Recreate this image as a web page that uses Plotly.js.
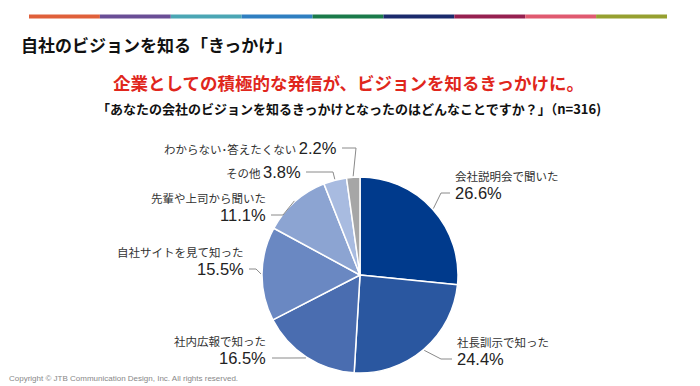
<!DOCTYPE html>
<html><head><meta charset="utf-8">
<script src="https://cdn.plot.ly/plotly-3.0.1.min.js"></script>
<style>html,body{margin:0;padding:0;background:#fff;}#chart{width:700px;height:386px;}</style>
</head><body><div id="chart"></div>
<script>
// ---- data ----
const categories = ["会社説明会で聞いた","社長訓示で知った","社内広報で知った","自社サイトを見て知った","先輩や上司から聞いた","その他","わからない･答えたくない"];
const values = [26.6, 24.4, 16.5, 15.5, 11.1, 3.8, 2.2];
const valueLabels = ["26.6%","24.4%","16.5%","15.5%","11.1%","3.8%","2.2%"];
const sliceColors = ["#003A8C","#2A57A0","#4A6DB0","#6A88C2","#8CA4D2","#A8BBE0","#A6A6A6"];
const stripeColors = ["#E0603A","#6A4E96","#4BA6B4","#2F7FC1","#1A7A4A","#1A2A6C","#962050","#E05A70","#96A030"];
const titleText = "自社のビジョンを知る「きっかけ」";
const headline = "企業としての積極的な発信が、ビジョンを知るきっかけに。";
const question = "「あなたの会社のビジョンを知るきっかけとなったのはどんなことですか？」（n=316)";
const copyright = "Copyright © JTB Communication Design, Inc. All rights reserved.";

// ---- layout constants (pixels) ----
const W = 700, H = 386;
const cx = 360, cy = 275, R = 98;
const JP = "'Noto Sans CJK JP', 'Noto Sans', sans-serif";
const NUM = "'Liberation Sans', Arial, sans-serif";

// label placement: side, text anchor x, value y, elbow point, end point
const labelPos = [
  {side:"left",  x:453, vy:193, elbow:[441,193], end:[450,193]},
  {side:"left",  x:455, vy:359, elbow:[441,359], end:[452,359]},
  {side:"right", x:268, vy:358, elbow:[290,358], end:[272,358]},
  {side:"right", x:246, vy:269, elbow:[256,269], end:[249,269]},
  {side:"right", x:268, vy:215, elbow:[283,215], end:[271,215]},
  {side:"inline",x:303, vy:172, elbow:[333,172], end:[306,172]},
  {side:"inline",x:339, vy:148, elbow:[356,148], end:[342,148]}
];
const lineGap = 17;

const total = values.reduce((a,b)=>a+b,0);
const shapes = [];
const annotations = [];

// stripe
const sx0 = 29, sx1 = 667, segW = (sx1 - sx0) / stripeColors.length;
stripeColors.forEach((c,i)=>{
  shapes.push({type:"rect", xref:"x", yref:"y", x0:sx0+i*segW, x1:sx0+(i+1)*segW, y0:14.5, y1:18.5, fillcolor:c, line:{width:0}});
});

let cum = 0;
values.forEach((v,i)=>{
  const mid = (cum + v/2) / total * 2*Math.PI;
  cum += v;
  const p = labelPos[i];
  const rr = R + 1;
  const px = cx + rr*Math.sin(mid), py = cy - rr*Math.cos(mid);
  shapes.push({type:"path", xref:"x", yref:"y",
    path:`M${px},${py} L${p.elbow[0]},${p.elbow[1]} L${p.end[0]},${p.end[1]}`,
    line:{color:"#8a8a8a", width:1}});
  if (p.side === "inline") {
    const valSpan = `<span style="font-family:${NUM};font-size:16.5px;fill:#222;">${valueLabels[i]}</span>`;
    annotations.push({xref:"x", yref:"y", x:p.x, y:p.vy, xanchor:"right", yanchor:"middle", showarrow:false,
      text:`${categories[i]} ${valSpan}`,
      font:{family:JP, size:11.5, color:"#333"}});
  } else {
    const xa = p.side === "left" ? "left" : "right";
    annotations.push({xref:"x", yref:"y", x:p.x, y:p.vy - lineGap, xanchor:xa, yanchor:"middle", showarrow:false,
      text:categories[i], font:{family:JP, size:11.5, color:"#333"}});
    annotations.push({xref:"x", yref:"y", x:p.x, y:p.vy, xanchor:xa, yanchor:"middle", showarrow:false,
      text:valueLabels[i], font:{family:NUM, size:16.5, color:"#222"}});
  }
});

// texts
annotations.push({xref:"x", yref:"y", x:19, y:44, xanchor:"left", yanchor:"middle", showarrow:false,
  text:"<b>"+titleText+"</b>", font:{family:JP, size:17, color:"#111"}});
annotations.push({xref:"x", yref:"y", x:348, y:82, xanchor:"center", yanchor:"middle", showarrow:false,
  text:"<b>"+headline+"</b>", font:{family:JP, size:17.5, color:"#E0261C"}});
annotations.push({xref:"x", yref:"y", x:349, y:108, xanchor:"center", yanchor:"middle", showarrow:false,
  text:"<b>"+question+"</b>", font:{family:JP, size:13, color:"#111"}});
annotations.push({xref:"x", yref:"y", x:7, y:378, xanchor:"left", yanchor:"middle", showarrow:false,
  text:copyright, font:{family:NUM, size:8, color:"#888"}});

const trace = {
  type:"pie", values:values, labels:categories, sort:false, direction:"clockwise", rotation:0,
  marker:{colors:sliceColors, line:{color:"#ffffff", width:1.5}},
  textinfo:"none", hoverinfo:"label+percent", showlegend:false,
  domain:{x:[(cx-R)/W,(cx+R)/W], y:[(H-cy-R)/H,(H-cy+R)/H]}
};

const layout = {
  width:W, height:H, margin:{l:0,r:0,t:0,b:0},
  paper_bgcolor:"#fff", plot_bgcolor:"rgba(0,0,0,0)",
  xaxis:{range:[0,W], visible:false, fixedrange:true},
  yaxis:{range:[H,0], visible:false, fixedrange:true},
  shapes:shapes, annotations:annotations, showlegend:false
};

Plotly.newPlot("chart",[trace],layout,{displayModeBar:false, staticPlot:true});
</script></body></html>
